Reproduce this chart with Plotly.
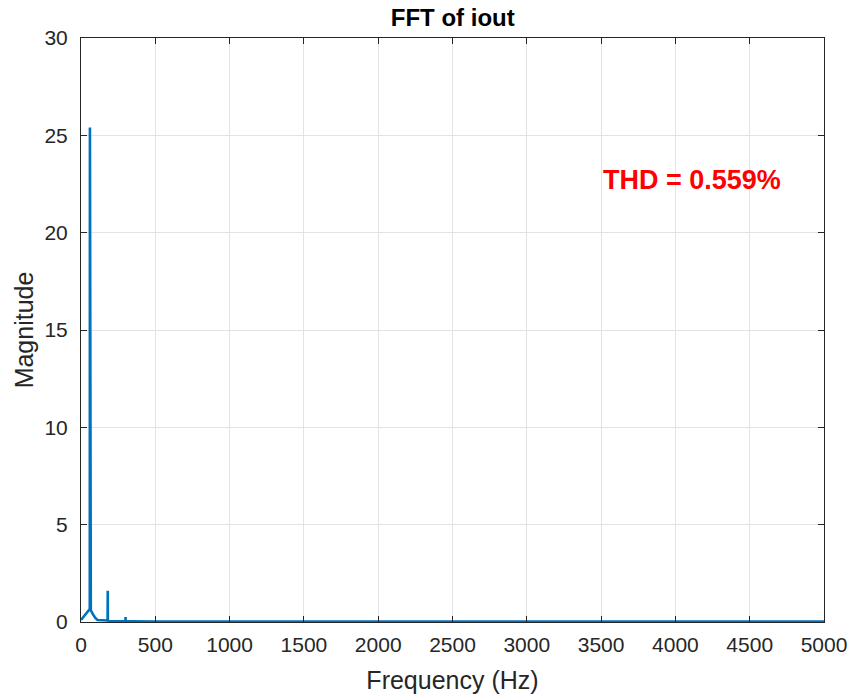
import plotly.graph_objects as go

# Single-sided amplitude spectrum of the output current
freq_hz = [0, 10, 25, 40, 55, 59, 60, 61, 66, 80, 95, 111, 140, 175, 179, 180, 181,
           200, 250, 295, 299, 300, 301, 340, 400, 500, 1000, 2000, 3000, 4000, 5000]
magnitude = [0.10, 0.20, 0.35, 0.50, 0.65, 0.66, 25.4, 0.66, 0.60, 0.40, 0.22, 0.10,
             0.09, 0.08, 0.08, 1.60, 0.03, 0.03, 0.03, 0.03, 0.03, 0.25, 0.03, 0.03,
             0.02, 0.02, 0.02, 0.02, 0.02, 0.02, 0.02]

x_ticks = [0, 500, 1000, 1500, 2000, 2500, 3000, 3500, 4000, 4500, 5000]
y_ticks = [0, 5, 10, 15, 20, 25, 30]

thd_label = "THD = 0.559%"
thd_pos = (3500, 22.7)

font_family = "Liberation Sans, Arial, Helvetica, sans-serif"
axis_color = "#262626"
grid_color = "#e3e3e3"

fig = go.Figure()
fig.add_trace(go.Scatter(
    x=freq_hz, y=magnitude, mode="lines",
    line=dict(color="#0072BD", width=2.6),
    showlegend=False,
))

fig.add_annotation(
    x=thd_pos[0], y=thd_pos[1], xref="x", yref="y",
    text=f"<b>{thd_label}</b>", showarrow=False,
    xanchor="left", yanchor="middle",
    font=dict(family=font_family, size=27, color="#ff0000"),
)

axis_common = dict(
    showgrid=True, gridcolor=grid_color, gridwidth=1,
    showline=True, linecolor=axis_color, linewidth=1, mirror="ticks",
    ticks="inside", ticklen=6, tickcolor=axis_color, tickwidth=1,
    zeroline=False, automargin=False,
    tickfont=dict(family=font_family, size=21, color=axis_color),
)

fig.update_xaxes(
    range=[0, 5000], tickvals=x_ticks, ticktext=[str(v) for v in x_ticks],
    title=dict(text="Frequency (Hz)", standoff=16,
               font=dict(family=font_family, size=25, color=axis_color)),
    ticklabelstandoff=4,
    **axis_common,
)
fig.update_yaxes(
    range=[0, 30], tickvals=y_ticks, ticktext=[str(v) for v in y_ticks],
    title=dict(text="Magnitude", standoff=3,
               font=dict(family=font_family, size=25, color=axis_color)),
    ticklabelstandoff=8,
    **axis_common,
)

fig.update_layout(
    width=851, height=695,
    margin=dict(l=81, r=27, t=38, b=73),
    paper_bgcolor="white", plot_bgcolor="white",
    title=dict(text="<b>FFT of iout</b>", x=0.532, xanchor="center",
               y=1 - 18 / 695, yanchor="middle",
               font=dict(family=font_family, size=24, color="#000000")),
)

fig.write_html("out.html")
